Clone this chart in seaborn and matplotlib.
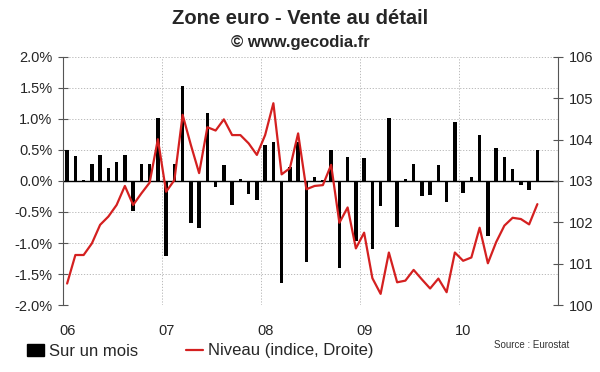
import numpy as np
import pandas as pd
import matplotlib
matplotlib.use('Agg')
import matplotlib.pyplot as plt
import seaborn as sns
from matplotlib.patches import Patch
from matplotlib.lines import Line2D

# données (janv. 2006 -> oct. 2010)
sur_un_mois = [0.50, 0.40, 0.02, 0.28, 0.42, 0.21, 0.30, 0.42, -0.48, 0.27, 0.27, 1.02,
               -1.21, 0.27, 1.53, -0.67, -0.75, 1.10, -0.09, 0.26, -0.39, 0.03, -0.21, -0.30,
               0.58, 0.63, -1.65, 0.22, 0.63, -1.31, 0.06, 0.02, 0.50, -1.40, 0.38, -0.97,
               0.37, -1.09, -0.40, 1.02, -0.74, 0.03, 0.27, -0.25, -0.23, 0.25, -0.34, 0.95,
               -0.20, 0.07, 0.74, -0.88, 0.53, 0.39, 0.20, -0.06, -0.15, 0.50]
niveau = [100.52, 101.21, 101.21, 101.49, 101.94, 102.14, 102.42, 102.88, 102.42, 102.70, 102.96, 104.01,
          102.74, 103.02, 104.60, 103.87, 103.19, 104.30, 104.22, 104.49, 104.11, 104.11, 103.91, 103.63,
          104.11, 104.88, 103.16, 103.31, 104.15, 102.80, 102.88, 102.90, 103.39, 101.99, 102.36, 101.37,
          101.75, 100.65, 100.27, 101.27, 100.55, 100.59, 100.85, 100.62, 100.40, 100.64, 100.31, 101.27,
          101.07, 101.15, 101.87, 101.01, 101.52, 101.92, 102.11, 102.08, 101.95, 102.44]
annees = ['06', '07', '08', '09', '10']

mois = np.arange(len(sur_un_mois))
df = pd.DataFrame({'mois': mois, 'sur_un_mois': sur_un_mois, 'niveau': niveau})

sns.set_style('white')
plt.rcParams['font.family'] = ['Liberation Sans', 'DejaVu Sans']

fig, ax = plt.subplots(figsize=(6, 3.72), dpi=100)
fig.subplots_adjust(left=0.105, right=0.93, top=0.847, bottom=0.18)

sns.barplot(x='mois', y='sur_un_mois', data=df, color='black', width=0.45, ax=ax,
            saturation=1, linewidth=0)
ax.axhline(0, color='black', lw=1, zorder=1)

ax.set_xlim(-0.5, 59.5)
ax.set_ylim(-2, 2)
ax.set_yticks(np.arange(-2, 2.01, 0.5))
ax.set_yticklabels([f'{v:.1f}%' for v in np.arange(-2, 2.01, 0.5)], fontsize=10.5)
ax.set_xticks([0, 12, 24, 36, 48])
ax.set_xticklabels(annees, fontsize=10.5)
ax.tick_params(axis='x', length=0, pad=14)
ax.tick_params(axis='y', direction='inout', length=7, color='#555555', pad=4)
ax.set_xlabel('')
ax.set_ylabel('')

# grille pointillée
for v in np.arange(-2, 2.01, 0.5):
    ax.axhline(v, color='#b0b0b0', lw=0.6, ls=(0, (1.5, 2)), zorder=0)
for x in [11.5, 23.5, 35.5, 47.5]:
    ax.axvline(x, color='#b0b0b0', lw=0.6, ls=(0, (1.5, 2)), zorder=0)

for s in ['top', 'bottom']:
    ax.spines[s].set_visible(False)
ax.spines['left'].set_color('#555555')
ax.spines['right'].set_visible(False)

ax2 = ax.twinx()
sns.lineplot(x='mois', y='niveau', data=df, color='#d42020', lw=1.6, ax=ax2)
ax2.set_ylim(100, 106)
ax2.set_yticks(range(100, 107))
ax2.set_yticklabels([str(v) for v in range(100, 107)], fontsize=10.5)
ax2.tick_params(axis='y', direction='inout', length=7, color='#555555', pad=4)
ax2.set_ylabel('')
for s in ['top', 'bottom', 'left']:
    ax2.spines[s].set_visible(False)
ax2.spines['right'].set_color('#555555')
ax2.set_xlim(-0.5, 59.5)

fig.text(0.5, 1 - 18 / 372, 'Zone euro - Vente au détail', ha='center', va='center',
         fontsize=14.5, fontweight='bold')
fig.text(0.5, 1 - 42 / 372, '© www.gecodia.fr', ha='center', va='center',
         fontsize=12, fontweight='bold')

handles = [Patch(facecolor='black', edgecolor='black'),
           Line2D([0], [0], color='#d42020', lw=1.6)]
fig.legend(handles, ['Sur un mois', 'Niveau (indice, Droite)'], loc='center left',
           bbox_to_anchor=(0.045, 1 - 351 / 372), ncol=2, frameon=False, fontsize=12,
           handlelength=1.0, handletextpad=0.3, columnspacing=2.9, borderaxespad=0,
           borderpad=0)
fig.text(0.823, 1 - 345 / 372, 'Source : Eurostat', ha='left', va='center', fontsize=7,
         color='#333333')

plt.savefig('out.png', dpi=100)
